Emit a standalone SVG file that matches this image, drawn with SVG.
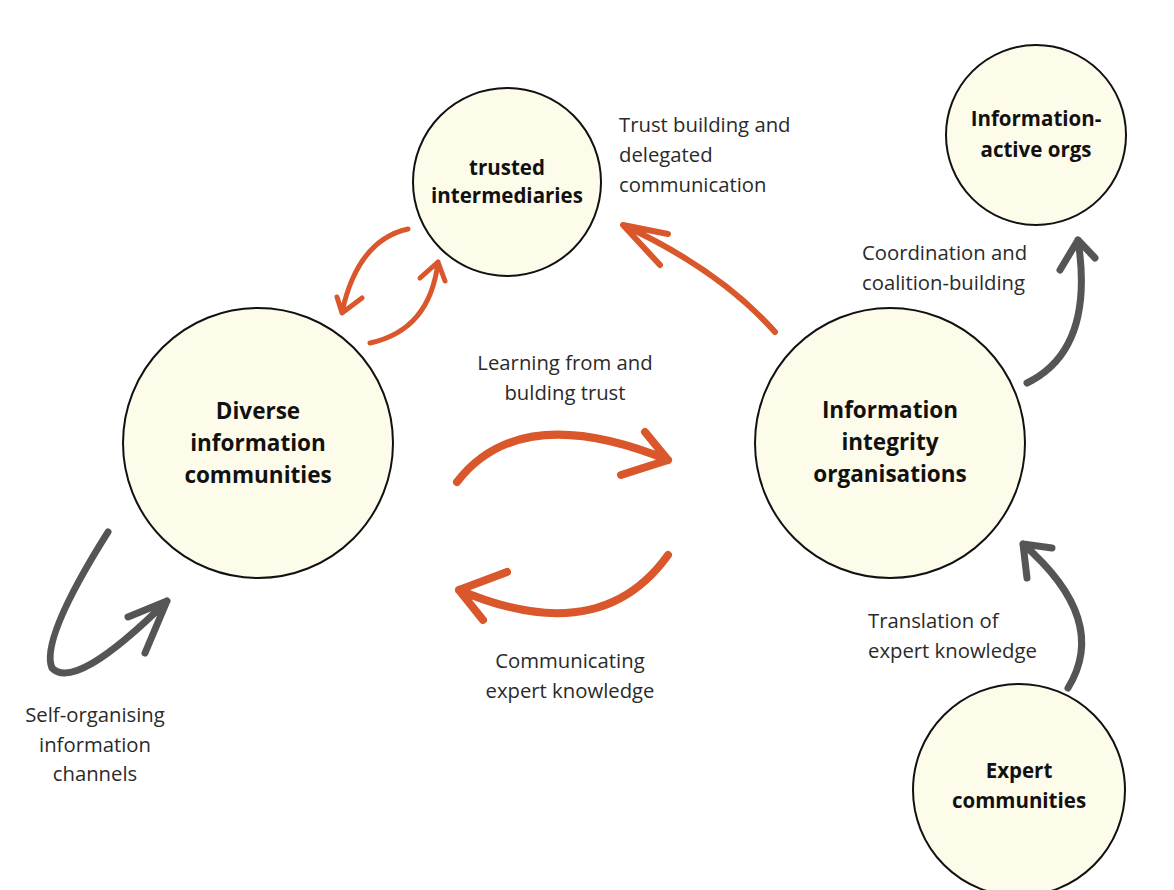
<svg xmlns="http://www.w3.org/2000/svg" width="1174" height="890" viewBox="0 0 1174 890">
<style>
.node{fill:#fdfbe9;stroke:#111;stroke-width:2}
.nl{font-family:"Open Sans","Liberation Sans",sans-serif;font-weight:bold;font-size:20.5px;fill:#111;text-anchor:middle}
.big{font-size:22.5px}
.lbl{font-family:"Open Sans","Liberation Sans",sans-serif;font-size:20.3px;fill:#2a2a2a}
.or{fill:none;stroke:#d9572b;stroke-linecap:round;stroke-linejoin:round}
.gr{fill:none;stroke:#555;stroke-linecap:round;stroke-linejoin:round}
</style>
<rect width="1174" height="890" fill="#fff"/>
<g id="node-trusted">
<circle class="node" cx="507" cy="182" r="94"/>
<text class="nl" x="507" y="175">trusted</text>
<text class="nl" x="507" y="203">intermediaries</text>
</g>
<g id="node-active">
<circle class="node" cx="1036" cy="135" r="90"/>
<text class="nl" x="1036" y="126">Information-</text>
<text class="nl" x="1036" y="157">active orgs</text>
</g>
<g id="node-diverse">
<circle class="node" cx="258" cy="443" r="135"/>
<text class="nl big" x="258" y="419">Diverse</text>
<text class="nl big" x="258" y="451">information</text>
<text class="nl big" x="258" y="483">communities</text>
</g>
<g id="node-integrity">
<circle class="node" cx="890" cy="443" r="135"/>
<text class="nl big" x="890" y="418">Information</text>
<text class="nl big" x="890" y="450">integrity</text>
<text class="nl big" x="890" y="482">organisations</text>
</g>
<g id="node-expert">
<circle class="node" cx="1019" cy="790" r="106"/>
<text class="nl" x="1019" y="778">Expert</text>
<text class="nl" x="1019" y="808">communities</text>
</g>
<g id="connectors">
<path class="or" stroke-width="5" d="M408,229 Q358,240 342,312 M337,297 L342,313 L362,298"/>
<path class="or" stroke-width="5" d="M370,343 Q430,330 438,262 M420,278 L438,262 L445,281"/>
<path class="or" stroke-width="8" d="M457,482 Q520,400 668,460 M645,432 L668,460 L621,475"/>
<path class="or" stroke-width="8" d="M668,555 Q600,650 459,590 M507,572 L459,590 L483,620"/>
<path class="or" stroke-width="6" d="M775,332 Q720,270 623,225 M668,234 L623,225 L660,265"/>
<path class="gr" stroke-width="7" d="M1027,383 Q1095,350 1078,240 M1060,270 L1078,240 L1095,258"/>
<path class="gr" stroke-width="7" d="M1068,688 Q1110,620 1023,544 M1027,578 L1023,544 L1052,548"/>
<path class="gr" stroke-width="7" d="M108,532 Q40,640 52,668 Q75,692 167,601 M128,617 L167,601 L145,653"/>
</g>
<g id="labels">
<text class="lbl" x="619" y="132">Trust building and</text>
<text class="lbl" x="619" y="162">delegated</text>
<text class="lbl" x="619" y="192">communication</text>
<text class="lbl" x="862" y="260">Coordination and</text>
<text class="lbl" x="862" y="290">coalition-building</text>
<text class="lbl" x="565" y="370" text-anchor="middle">Learning from and</text>
<text class="lbl" x="565" y="400" text-anchor="middle">bulding trust</text>
<text class="lbl" x="570" y="668" text-anchor="middle">Communicating</text>
<text class="lbl" x="570" y="698" text-anchor="middle">expert knowledge</text>
<text class="lbl" x="868" y="628">Translation of</text>
<text class="lbl" x="868" y="658">expert knowledge</text>
<text class="lbl" x="95" y="722" text-anchor="middle">Self-organising</text>
<text class="lbl" x="95" y="752" text-anchor="middle">information</text>
<text class="lbl" x="95" y="781" text-anchor="middle">channels</text>
</g>
</svg>
